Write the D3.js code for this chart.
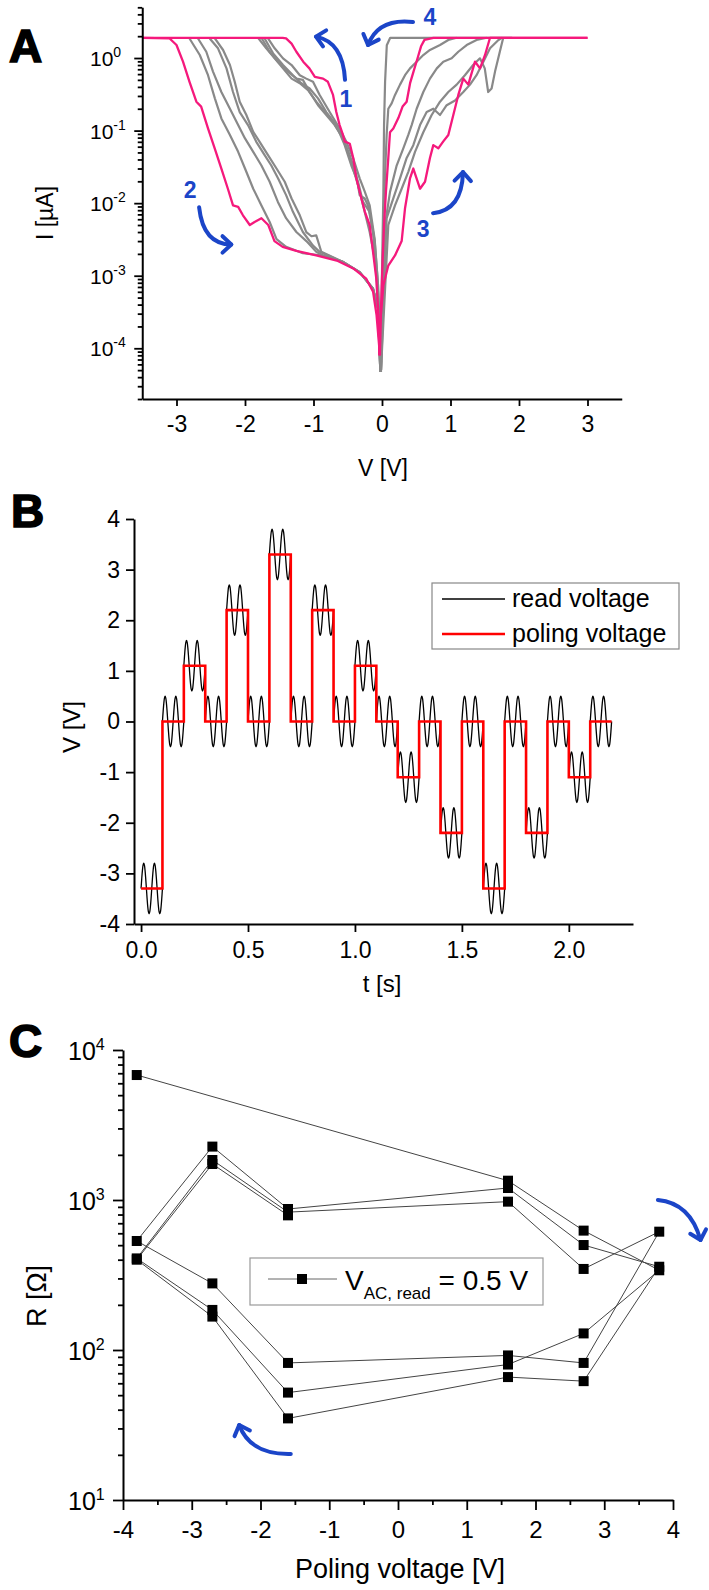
<!DOCTYPE html>
<html><head><meta charset="utf-8">
<script src="https://cdn.jsdelivr.net/npm/d3@7"></script>
<style>body{margin:0;background:#fff;} svg{display:block;}</style>
</head><body><svg id="c" width="709" height="1590"></svg>
<script>
// ================= DATA =================
// Panel A: I-V sweeps, [V (V), I (µA)]
const pinkBranch1 = [[-0.034,8e-5],[-0.058,3.5e-4],[-0.083,9.1e-4],[-0.13,2.1e-3],[-0.18,5.0e-3],[-0.25,7.6e-3],[-0.30,1.15e-2],[-0.375,2.2e-2],[-0.42,4.2e-2],[-0.47,6.6e-2],[-0.545,7.1e-2],[-0.57,8.7e-2],[-0.62,0.12],[-0.667,0.18],[-0.715,0.31],[-0.79,0.47],[-0.86,0.52],[-0.98,0.55],[-1.06,0.72],[-1.15,0.89],[-1.25,1.22],[-1.32,1.58],[-1.40,1.86],[-1.45,1.9],[-3.5,1.9]];
const pinkBranch2 = [[-3.5,1.9],[-3.10,1.86],[-3.00,1.51],[-2.905,0.89],[-2.81,0.47],[-2.71,0.25],[-2.64,0.214],[-2.54,0.107],[-2.44,0.056],[-2.345,0.030],[-2.25,0.0158],[-2.175,0.0093],[-2.10,0.0089],[-2.03,0.0068],[-1.93,0.0050],[-1.86,0.0055],[-1.76,0.0062],[-1.66,0.0050],[-1.57,0.0030],[-1.45,0.0025],[-1.25,0.0022],[-0.96,0.0019],[-0.66,0.00162],[-0.42,0.00126],[-0.23,0.00091],[-0.13,0.0006],[-0.08,0.00029],[-0.03,0.00008]];
const pinkBranch3 = [[-0.039,8e-5],[-0.029,2.1e-4],[0.02,7.4e-4],[0.092,1.38e-3],[0.19,1.9e-3],[0.287,3.0e-3],[0.336,8.5e-3],[0.409,0.022],[0.457,0.030],[0.555,0.0158],[0.628,0.0197],[0.70,0.042],[0.749,0.063],[0.822,0.057],[0.895,0.071],[0.968,0.087],[1.041,0.164],[1.114,0.31],[1.187,0.52],[1.26,0.43],[1.285,0.52],[1.358,0.89],[1.431,0.72],[1.504,1.10],[1.577,1.9],[3.0,1.9]];
const pinkBranch4 = [[3.0,1.9],[0.75,1.9],[0.62,1.78],[0.57,1.45],[0.52,1.0],[0.46,0.65],[0.41,0.45],[0.36,0.25],[0.30,0.214],[0.24,0.15],[0.165,0.107],[0.117,0.095],[0.092,0.042],[0.058,0.0145],[0.03,0.0050],[0.01,0.00174],[-0.015,0.00035],[-0.03,0.00008]];

const grayBranch1a = [[-1.81,1.9],[-1.69,1.36],[-1.567,0.99],[-1.445,0.72],[-1.32,0.52],[-1.20,0.45],[-1.08,0.36],[-0.96,0.25],[-0.837,0.18],[-0.715,0.132],[-0.594,0.087],[-0.496,0.051],[-0.423,0.030],[-0.35,0.0178],[-0.30,0.0115],[-0.253,0.0076],[-0.18,0.0040],[-0.107,0.00174],[-0.058,6e-4],[-0.024,7.2e-5]];
const grayBranch1b = [[-1.76,1.9],[-1.64,1.22],[-1.52,0.89],[-1.372,0.65],[-1.25,0.52],[-1.155,0.50],[-1.056,0.34],[-0.934,0.224],[-0.813,0.164],[-0.69,0.119],[-0.57,0.078],[-0.472,0.046],[-0.375,0.0243],[-0.326,0.0129],[-0.253,0.0116],[-0.204,0.0093],[-0.131,0.0040],[-0.083,0.00113],[-0.034,1.23e-4]];
const grayBranch1c = [[-1.713,1.86],[-1.59,1.16],[-1.445,0.80],[-1.30,0.58],[-1.178,0.45],[-1.056,0.38],[-0.934,0.278],[-0.813,0.18],[-0.667,0.119],[-0.545,0.063],[-0.448,0.033],[-0.35,0.0197],[-0.277,0.0104],[-0.18,0.0076],[-0.107,0.0030],[-0.058,7.4e-4],[-0.024,8.9e-5]];
const grayBranch1d = [[-1.664,1.86],[-1.567,1.36],[-1.445,0.99],[-1.32,0.80],[-1.20,0.58],[-1.105,0.52],[-1.007,0.47],[-0.91,0.31],[-0.764,0.18],[-0.618,0.107],[-0.521,0.070],[-0.423,0.042],[-0.326,0.022],[-0.253,0.0145],[-0.18,0.0093],[-0.107,0.0032],[-0.058,7.4e-4],[-0.024,7.2e-5]];

const grayBranch2a = [[-2.81,1.86],[-2.66,1.10],[-2.54,0.58],[-2.44,0.278],[-2.345,0.147],[-2.22,0.087],[-2.10,0.051],[-2.00,0.030],[-1.88,0.0158],[-1.76,0.0093],[-1.64,0.0055],[-1.54,0.0032],[-1.40,0.0025],[-1.155,0.00204],[-0.86,0.0019],[-0.57,0.00155],[-0.326,0.00112],[-0.131,6.6e-4],[-0.058,3.5e-4],[-0.024,4.7e-5]];
const grayBranch2b = [[-2.686,1.86],[-2.565,1.22],[-2.467,0.65],[-2.345,0.34],[-2.22,0.20],[-2.10,0.119],[-2.00,0.078],[-1.88,0.051],[-1.76,0.033],[-1.64,0.0197],[-1.52,0.0104],[-1.40,0.0062],[-1.25,0.0040],[-1.104,0.0030],[-0.96,0.00214],[-0.86,0.0019],[-0.57,0.00155],[-0.326,0.00112],[-0.131,6.6e-4],[-0.058,3.5e-4],[-0.024,4.7e-5]];
const grayBranch2c = [[-2.515,1.86],[-2.394,1.36],[-2.27,0.72],[-2.175,0.34],[-2.077,0.18],[-1.956,0.119],[-1.835,0.070],[-1.713,0.046],[-1.616,0.033],[-1.518,0.022],[-1.40,0.0129],[-1.30,0.0076],[-1.155,0.0040],[-1.007,0.0026],[-0.91,0.00214],[-0.57,0.00155],[-0.326,0.00112],[-0.131,6.6e-4],[-0.058,3.5e-4],[-0.024,4.7e-5]];
const grayBranch2d = [[-2.44,1.86],[-2.32,1.29],[-2.22,0.80],[-2.15,0.47],[-2.077,0.25],[-1.98,0.164],[-1.88,0.096],[-1.786,0.070],[-1.664,0.046],[-1.54,0.030],[-1.42,0.0197],[-1.32,0.0116],[-1.20,0.0068],[-1.105,0.0040],[-1.03,0.0035],[-0.96,0.0036],[-0.886,0.00214],[-0.57,0.00155],[-0.326,0.00112],[-0.131,6.6e-4],[-0.058,3.5e-4],[-0.024,4.7e-5]];

const grayBranch3a = [[-0.015,5e-5],[0.02,0.0040],[0.044,0.0243],[0.068,0.087],[0.092,0.20],[0.141,0.237],[0.19,0.31],[0.263,0.43],[0.336,0.58],[0.409,0.72],[0.506,0.89],[0.603,1.10],[0.70,1.29],[0.847,1.51],[0.968,1.77],[1.09,1.9]];
const grayBranch3b = [[-0.015,5e-5],[0.044,0.0050],[0.117,0.0143],[0.214,0.033],[0.311,0.057],[0.384,0.087],[0.433,0.119],[0.506,0.20],[0.603,0.34],[0.70,0.52],[0.80,0.72],[0.895,0.89],[1.017,0.99],[1.114,1.22],[1.236,1.51],[1.38,1.77],[1.53,1.9]];
const grayBranch3c = [[-0.015,5e-5],[0.068,0.0062],[0.165,0.0116],[0.263,0.022],[0.36,0.042],[0.457,0.063],[0.555,0.119],[0.652,0.18],[0.749,0.20],[0.847,0.164],[0.944,0.224],[1.066,0.26],[1.187,0.34],[1.285,0.43],[1.38,0.58],[1.48,0.89],[1.577,1.36],[1.70,1.77],[1.75,1.9]];
const grayBranch3d = [[-0.015,5e-5],[0.092,0.0050],[0.19,0.0093],[0.287,0.0158],[0.384,0.027],[0.482,0.051],[0.603,0.095],[0.725,0.164],[0.847,0.25],[0.968,0.34],[1.09,0.43],[1.21,0.58],[1.33,0.80],[1.43,0.99],[1.50,0.72],[1.55,0.34],[1.60,0.38],[1.65,0.65],[1.72,1.22],[1.77,1.9]];
const grayBranch4 = [[1.9,1.9],[0.12,1.9],[0.07,1.5],[0.045,0.47],[0.03,0.12],[0.02,0.014],[0.01,0.004],[-0.005,6e-4],[-0.015,4.7e-5]];

const aXTicks = [-3,-2,-1,0,1,2,3];
const aYTickExponents = [-4,-3,-2,-1,0];

// Panel B: poling voltage steps and read voltage
const stepDuration = 0.1; // s
const polingLevels = [-3.3,0,1.1,0,2.2,0,3.3,0,2.2,0,1.1,0,-1.1,0,-2.2,0,-3.3,0,-2.2,0,-1.1,0];
const readWaveOnePeriod = [0,0.191,0.354,0.462,0.5,0.462,0.354,0.191,0,-0.191,-0.354,-0.462,-0.5,-0.462,-0.354,-0.191];
const readPeriodsPerStep = 2;
const bXTicks = [0,0.5,1,1.5,2];
const bYTicks = [-4,-3,-2,-1,0,1,2,3,4];

// Panel C: resistance vs poling voltage (measurement sequence)
const cPolingV = [-3.8,1.6,2.7,3.8,2.7,1.6,-1.6,-2.7,-3.8,-2.7,-1.6,1.6,2.7,3.8,2.7,1.6,-1.6,-2.7,-3.8,-2.7,-1.6,1.6,2.7,3.8,2.7,1.6,-1.6,-2.7,-3.8,-2.7,-1.6];
const cResistance = [6810,1345,625,340,129,80,52,185,408,1848,830,975,347,615,82,92,82,278,533,2270,871,1202,501,359,62,66,35,167,400,1738,790];
const cXTicks = [-4,-3,-2,-1,0,1,2,3,4];
const cXMinorTicks = [-3.5,-2.5,-1.5,-0.5,0.5,1.5,2.5,3.5];
const cYTickExponents = [1,2,3,4];

// ================= DRAWING =================
const FONT = '"Liberation Sans", Arial, Helvetica, sans-serif';
const PINK = "#f5197c", GRAY = "#898989", BLUE = "#1b45c8";
const svg = d3.select("#c").attr("font-family", FONT);

function styleAxis(g, fs, keepDomain) {
  g.attr("font-family", FONT).attr("font-size", fs);
  if (keepDomain) g.select(".domain").attr("stroke", "#000").attr("stroke-width", 2);
  else g.select(".domain").remove();
  g.selectAll(".tick line").attr("stroke", "#000").attr("stroke-width", 1.8);
  g.selectAll(".tick text").attr("fill", "#000");
}
function logLabel(g, x, y, exp, fs, sfs) {
  const t = g.append("text").attr("x", x).attr("y", y).attr("font-size", fs).attr("fill", "#000");
  t.append("tspan").text("10");
  t.append("tspan").attr("font-size", sfs).attr("dy", -fs * 0.42).text(String(exp));
}
function arrow(g, p0, c, p1) {
  g.append("path").attr("d", `M${p0[0]},${p0[1]} Q${c[0]},${c[1]} ${p1[0]},${p1[1]}`)
    .attr("fill", "none").attr("stroke", BLUE).attr("stroke-width", 4).attr("stroke-linecap", "round");
  const dx = p1[0] - c[0], dy = p1[1] - c[1], L = Math.hypot(dx, dy), ux = dx / L, uy = dy / L;
  const len = 12, a = 0.75;
  const r = ang => [p1[0] - len * (ux * Math.cos(ang) - uy * Math.sin(ang)), p1[1] - len * (ux * Math.sin(ang) + uy * Math.cos(ang))];
  const A1 = r(a), A2 = r(-a);
  g.append("path").attr("d", `M${A1[0]},${A1[1]} L${p1[0]},${p1[1]} L${A2[0]},${A2[1]}`)
    .attr("fill", "none").attr("stroke", BLUE).attr("stroke-width", 4)
    .attr("stroke-linecap", "round").attr("stroke-linejoin", "round");
}
function panelLetter(x, y, txt) {
  svg.append("text").attr("x", x).attr("y", y).attr("font-size", 46).attr("font-weight", "bold")
    .attr("stroke", "#000").attr("stroke-width", 1.6).attr("fill", "#000").text(txt);
}

// ---------- Panel A ----------
const xA = d3.scaleLinear().domain([-3.5, 3.5]).range([142.25, 621.75]);
const yA = d3.scaleLog().domain([2e-5, 5]).range([399, 7.3]);
const gA = svg.append("g");
const lineA = d3.line().x(d => xA(d[0])).y(d => yA(d[1]));
const grayCurves = [grayBranch2a, grayBranch2b, grayBranch2c, grayBranch2d, grayBranch1a, grayBranch1b, grayBranch1c, grayBranch1d, grayBranch3a, grayBranch3b, grayBranch3c, grayBranch3d, grayBranch4];
const pinkCurves = [pinkBranch1, pinkBranch2, pinkBranch3, pinkBranch4];
grayCurves.forEach(c => gA.append("path").attr("d", lineA(c)).attr("fill", "none")
  .attr("stroke", GRAY).attr("stroke-width", 2.2).attr("stroke-linejoin", "round"));
pinkCurves.forEach(c => gA.append("path").attr("d", lineA(c)).attr("fill", "none")
  .attr("stroke", PINK).attr("stroke-width", 2.3).attr("stroke-linejoin", "round"));

const aMajors = aYTickExponents.map(e => Math.pow(10, e));
const aMinors = yA.ticks().filter(v => Math.abs(Math.log10(v) - Math.round(Math.log10(v))) > 1e-6);
const axAyMin = gA.append("g").attr("transform", `translate(${xA.range()[0]},0)`)
  .call(d3.axisLeft(yA).tickValues(aMinors).tickSize(4.5).tickSizeOuter(0).tickFormat(""));
styleAxis(axAyMin, 10, false);
const axAy = gA.append("g").attr("transform", `translate(${xA.range()[0]},0)`)
  .call(d3.axisLeft(yA).tickValues(aMajors).tickSize(8).tickSizeOuter(0).tickFormat(""));
styleAxis(axAy, 10, true);
aYTickExponents.forEach(e => logLabel(gA, 90, yA(Math.pow(10, e)) + 8, e, 21, 14));
const axAx = gA.append("g").attr("transform", `translate(0,${yA.range()[0]})`)
  .call(d3.axisBottom(xA).tickValues(aXTicks).tickSize(7).tickSizeOuter(0).tickPadding(10).tickFormat(d => String(d)));
styleAxis(axAx, 23, true);
gA.append("text").attr("x", 383).attr("y", 476).attr("text-anchor", "middle").attr("font-size", 23).text("V [V]");
gA.append("text").attr("transform", "translate(53,213) rotate(-90)").attr("text-anchor", "middle").attr("font-size", 23).text("I [µA]");

// annotations panel A (data coordinates)
const P = (v, i) => [xA(v), yA(i)];
arrow(gA, P(-0.54, 0.50), P(-0.569, 1.66), P(-0.964, 1.97));
arrow(gA, P(-2.67, 0.0088), P(-2.61, 0.0027), P(-2.20, 0.0027));
arrow(gA, P(0.745, 0.00728), P(1.168, 0.008), P(1.182, 0.0268));
arrow(gA, P(0.453, 3.14), P(-0.058, 3.56), P(-0.204, 1.51));
[["1", -0.526, 0.211], ["2", -2.80, 0.0117], ["3", 0.60, 0.0034], ["4", 0.70, 2.85]].forEach(([t, v, i]) => {
  gA.append("text").attr("x", xA(v)).attr("y", yA(i)).attr("text-anchor", "middle")
    .attr("font-size", 23).attr("font-weight", "bold").attr("fill", BLUE).text(t);
});
panelLetter(9, 62, "A");

// ---------- Panel B ----------
const xB = d3.scaleLinear().domain([-0.033, 2.3]).range([134, 633]);
const yB = d3.scaleLinear().domain([-4, 4]).range([924, 519]);
const gB = svg.append("g");
const nWave = readWaveOnePeriod.length;
const readSegments = polingLevels.map((lvl, i) => {
  const t0 = i * stepDuration, n = nWave * readPeriodsPerStep, pts = [];
  for (let k = 0; k <= n; k++) pts.push([t0 + k * stepDuration / n, lvl + readWaveOnePeriod[k % nWave]]);
  return pts;
});
const lineB = d3.line().x(d => xB(d[0])).y(d => yB(d[1])).curve(d3.curveCatmullRom);
readSegments.forEach(s => gB.append("path").attr("d", lineB(s)).attr("fill", "none")
  .attr("stroke", "#000").attr("stroke-width", 1.3));
const polingPts = polingLevels.map((lvl, i) => [i * stepDuration, lvl]);
polingPts.push([polingLevels.length * stepDuration, polingLevels[polingLevels.length - 1]]);
gB.append("path").attr("d", d3.line().x(d => xB(d[0])).y(d => yB(d[1])).curve(d3.curveStepAfter)(polingPts))
  .attr("fill", "none").attr("stroke", "#ff0000").attr("stroke-width", 2.6);

const axBy = gB.append("g").attr("transform", `translate(${xB.range()[0]},0)`)
  .call(d3.axisLeft(yB).tickValues(bYTicks).tickSize(8).tickSizeOuter(0).tickPadding(6).tickFormat(d => String(d)));
styleAxis(axBy, 23, true);
const axBx = gB.append("g").attr("transform", `translate(0,${yB.range()[0]})`)
  .call(d3.axisBottom(xB).tickValues(bXTicks).tickSize(8).tickSizeOuter(0).tickPadding(10).tickFormat(d3.format(".1f")));
styleAxis(axBx, 23, true);
gB.append("text").attr("x", 382).attr("y", 992).attr("text-anchor", "middle").attr("font-size", 24).text("t [s]");
gB.append("text").attr("transform", "translate(80,727) rotate(-90)").attr("text-anchor", "middle").attr("font-size", 24).text("V [V]");
// legend B
gB.append("rect").attr("x", 432).attr("y", 583).attr("width", 247).attr("height", 66)
  .attr("fill", "#fff").attr("stroke", "#888").attr("stroke-width", 1.2);
gB.append("line").attr("x1", 442).attr("x2", 505).attr("y1", 599).attr("y2", 599).attr("stroke", "#000").attr("stroke-width", 1.5);
gB.append("line").attr("x1", 442).attr("x2", 505).attr("y1", 634).attr("y2", 634).attr("stroke", "#ff0000").attr("stroke-width", 2.6);
gB.append("text").attr("x", 512).attr("y", 607).attr("font-size", 25).text("read voltage");
gB.append("text").attr("x", 512).attr("y", 642).attr("font-size", 25).text("poling voltage");
panelLetter(11, 527, "B");

// ---------- Panel C ----------
const xC = d3.scaleLinear().domain([-4, 4]).range([123, 673]);
const yC = d3.scaleLog().domain([10, 1e4]).range([1500, 1050]);
const gC = svg.append("g");
const cPts = cPolingV.map((v, i) => [v, cResistance[i]]);
gC.append("path").attr("d", d3.line().x(d => xC(d[0])).y(d => yC(d[1]))(cPts))
  .attr("fill", "none").attr("stroke", "#444").attr("stroke-width", 1);
gC.selectAll("rect.pt").data(cPts).enter().append("rect").attr("class", "pt")
  .attr("x", d => xC(d[0]) - 5).attr("y", d => yC(d[1]) - 5).attr("width", 10).attr("height", 10).attr("fill", "#000");

const cMinorY = yC.ticks().filter(v => Math.abs(Math.log10(v) - Math.round(Math.log10(v))) > 1e-6);
const axCyMin = gC.append("g").attr("transform", `translate(${xC.range()[0]},0)`)
  .call(d3.axisLeft(yC).tickValues(cMinorY).tickSize(5).tickSizeOuter(0).tickFormat(""));
styleAxis(axCyMin, 10, false);
const axCy = gC.append("g").attr("transform", `translate(${xC.range()[0]},0)`)
  .call(d3.axisLeft(yC).tickValues(cYTickExponents.map(e => Math.pow(10, e))).tickSize(10).tickSizeOuter(0).tickFormat(""));
styleAxis(axCy, 10, true);
cYTickExponents.forEach(e => logLabel(gC, 68, yC(Math.pow(10, e)) + 10, e, 25, 16));
const axCxMin = gC.append("g").attr("transform", `translate(0,${yC.range()[0]})`)
  .call(d3.axisBottom(xC).tickValues(cXMinorTicks).tickSize(5).tickSizeOuter(0).tickFormat(""));
styleAxis(axCxMin, 10, false);
const axCx = gC.append("g").attr("transform", `translate(0,${yC.range()[0]})`)
  .call(d3.axisBottom(xC).tickValues(cXTicks).tickSize(10).tickSizeOuter(0).tickPadding(11).tickFormat(d => String(d)));
styleAxis(axCx, 24, true);
gC.append("text").attr("x", 400).attr("y", 1578).attr("text-anchor", "middle").attr("font-size", 27).text("Poling voltage [V]");
gC.append("text").attr("transform", "translate(46,1296) rotate(-90)").attr("text-anchor", "middle").attr("font-size", 27).text("R [Ω]");
// legend C
gC.append("rect").attr("x", 250).attr("y", 1258).attr("width", 293).attr("height", 47)
  .attr("fill", "#fff").attr("stroke", "#999").attr("stroke-width", 1.2);
gC.append("line").attr("x1", 268).attr("x2", 337).attr("y1", 1279).attr("y2", 1279).attr("stroke", "#666").attr("stroke-width", 1);
gC.append("rect").attr("x", 297).attr("y", 1274).attr("width", 10).attr("height", 10).attr("fill", "#000");
const lt = gC.append("text").attr("x", 345).attr("y", 1290).attr("font-size", 28);
lt.append("tspan").text("V");
lt.append("tspan").attr("font-size", 17).attr("dy", 9).text("AC, read");
lt.append("tspan").attr("dy", -9).text(" = 0.5 V");
// arrows C
const Q = (v, r) => [xC(v), yC(r)];
arrow(gC, Q(3.78, 1000), Q(4.25, 955), Q(4.40, 541));
arrow(gC, Q(-1.56, 20.3), Q(-2.15, 20), Q(-2.31, 31.6));
panelLetter(9, 1057, "C");
</script></body></html>
